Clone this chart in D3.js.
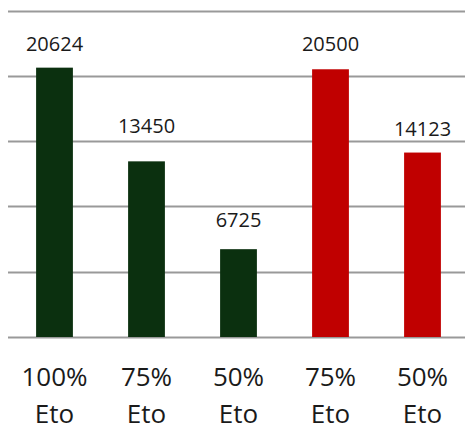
<!DOCTYPE html>
<html>
<head>
<meta charset="utf-8">
<script src="https://cdn.jsdelivr.net/npm/d3@7"></script>
<style>
  body { margin: 0; background: #fff; }
  svg { display: block; }
</style>
</head>
<body>
<svg></svg>
<script>
// data
let categories = ['100% Eto', '75% Eto', '50% Eto', '75% Eto ', '50% Eto ']
let values = [20624, 13450, 6725, 20500, 14123]
let colors = ['#0b300f', '#0b300f', '#0b300f', '#c00000', '#c00000']
let yTicks = [0, 5000, 10000, 15000, 20000, 25000]

// distance of each value label above its bar (as placed in the original)
let labelGap = [17, 28, 22, 18, 17]

let width = 465
let height = 425

let svg = d3.select('svg')
    .attr('width', width)
    .attr('height', height)

let x = d3.scaleBand()
    .domain(categories)
    .range([8.5, 468.5])
    .paddingInner(0.6)
    .paddingOuter(0.3)

let y = d3.scaleLinear()
    .domain([0, 25000])
    .range([337, 10.5])

// gridlines
svg.append('g')
    .selectAll('line')
    .data(yTicks)
    .enter()
    .append('line')
    .attr('x1', 8)
    .attr('x2', width)
    .attr('y1', d => Math.round(y(d)) + 0.5)
    .attr('y2', d => Math.round(y(d)) + 0.5)
    .attr('stroke', '#999')
    .attr('stroke-width', 2)

// bars
svg.append('g')
    .selectAll('rect')
    .data(values)
    .enter()
    .append('rect')
    .attr('x', (d, i) => x(categories[i]))
    .attr('y', d => y(d))
    .attr('width', x.bandwidth())
    .attr('height', d => y(0) - y(d))
    .attr('fill', (d, i) => colors[i])

// value labels
svg.append('g')
    .selectAll('text')
    .data(values)
    .enter()
    .append('text')
    .attr('x', (d, i) => x(categories[i]) + x.bandwidth() / 2)
    .attr('y', (d, i) => y(d) - labelGap[i])
    .attr('text-anchor', 'middle')
    .attr('font-family', 'Open Sans')
    .attr('font-size', 20)
    .attr('fill', '#1a1a1a')
    .text(d => d)

// category labels (two lines)
let labels = svg.append('g')
    .selectAll('text')
    .data(categories)
    .enter()
    .append('text')
    .attr('x', d => x(d) + x.bandwidth() / 2)
    .attr('y', 386)
    .attr('text-anchor', 'middle')
    .attr('font-family', 'Open Sans')
    .attr('font-size', 26)
    .attr('fill', '#1a1a1a')

labels.selectAll('tspan')
    .data(d => d.trim().split(' '))
    .enter()
    .append('tspan')
    .attr('x', function () { return d3.select(this.parentNode).attr('x') })
    .attr('dy', (d, i) => i === 0 ? 0 : 37)
    .text(d => d)
</script>
</body>
</html>
